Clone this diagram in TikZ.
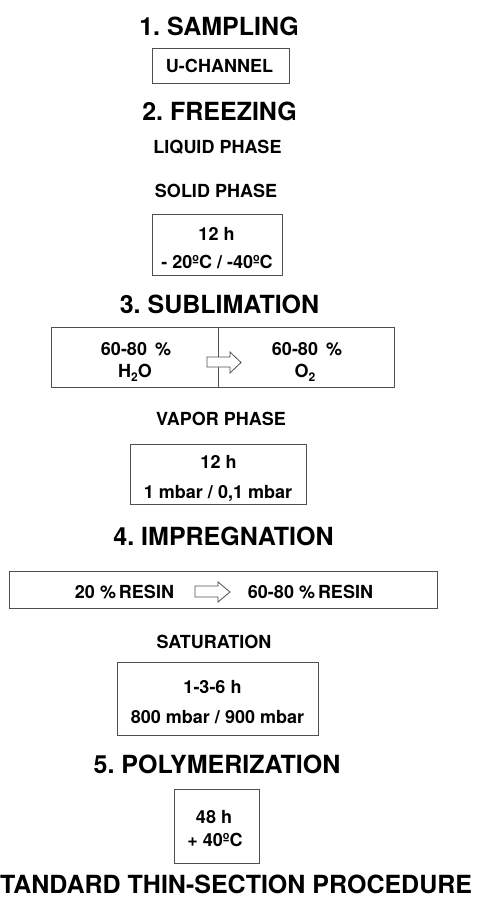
\documentclass[tikz,border=0pt]{standalone}
\usepackage{fontspec}
\setmainfont{TeX Gyre Heros}
\definecolor{boxgray}{HTML}{505050}
\frenchspacing
\begin{document}
\begin{tikzpicture}[x=1pt,y=-1pt,
  head/.style={font=\bfseries\fontsize{25}{28}\selectfont, inner sep=0pt, anchor=base},
  lab/.style={font=\bfseries\fontsize{18}{20}\selectfont, inner sep=0pt, anchor=base},
  box/.style={draw=boxgray, line width=0.9pt, inner sep=0pt, rectangle},
  blk/.style={draw=boxgray, line width=0.8pt, fill=white, line join=miter}]
\useasboundingbox (0,0) rectangle (479,902);
% 1. Sampling
\node[head] (h1) at (219,35) {1. SAMPLING};
\node[box, minimum width=137, minimum height=35] (b1) at (220.5,65.5) {};
\node[lab] (t1) at (219.5,72) {U-CHANNEL};
% 2. Freezing
\node[head] (h2) at (219.5,120) {2. FREEZING};
\node[lab] (liq) at (217.5,153) {LIQUID PHASE};
\node[lab] (sol) at (216,197) {SOLID PHASE};
\node[box, minimum width=130, minimum height=61] (b2) at (217,244.5) {};
\node[lab] (t2a) at (216.5,240) {12 h};
\node[lab] (t2b) at (217,268) {- 20ºC /\ -40ºC};
% 3. Sublimation
\node[head] (h3) at (219.5,313) {3. SUBLIMATION};
\node[box, minimum width=167, minimum height=60] (b3l) at (134.5,357) {};
\node[box, minimum width=176, minimum height=60] (b3r) at (306,357) {};
\node[lab] (t3a) at (136,355) {60-80 \,\%};
\node[lab] (t3b) at (135,377) {H\raisebox{-0.25em}{\fontsize{12}{12}\selectfont 2}O};
\node[lab] (t3c) at (307,355) {60-80 \,\%};
\node[lab] (t3d) at (305,377) {O\raisebox{-0.25em}{\fontsize{12}{12}\selectfont 2}};
\draw[blk] (207,357) -- (230,357) -- (230,352) -- (241,362.5) -- (230,373) -- (230,367) -- (207,367) -- cycle;
\node[lab] (vap) at (221,425) {VAPOR PHASE};
\node[box, minimum width=176, minimum height=60] (b4) at (218,474) {};
\node[lab] (t4a) at (218.5,468) {12 h};
\node[lab] (t4b) at (218,498) {1 mbar / 0,1 mbar};
% 4. Impregnation
\node[head] (h4) at (223.5,545) {4. IMPREGNATION};
\node[box, minimum width=428, minimum height=37] (b5) at (223,589.5) {};
\node[lab] (t5a) at (124.5,598) {20 \%\,RESIN};
\node[lab] (t5b) at (310.5,598) {60-80 \%\,RESIN};
\draw[blk] (195,586) -- (218,586) -- (218,582) -- (230,592) -- (218,602) -- (218,597) -- (195,597) -- cycle;
\node[lab] (sat) at (214,648) {SATURATION};
\node[box, minimum width=201, minimum height=73] (b6) at (217.5,698.5) {};
\node[lab] (t6a) at (212.5,693) {1-3-6 h};
\node[lab] (t6b) at (217.5,723) {800 mbar / 900 mbar};
% 5. Polymerization
\node[head] (h5) at (217,773) {5. POLYMERIZATION};
\node[box, minimum width=85, minimum height=74] (b7) at (216.5,826) {};
\node[lab] (t7a) at (214,823) {48 h};
\node[lab] (t7b) at (215,846) {+ 40ºC};
% Title
\node[head, anchor=base west] (title) at (0,893) {TANDARD THIN-SECTION PROCEDURE};
\end{tikzpicture}
\end{document}
